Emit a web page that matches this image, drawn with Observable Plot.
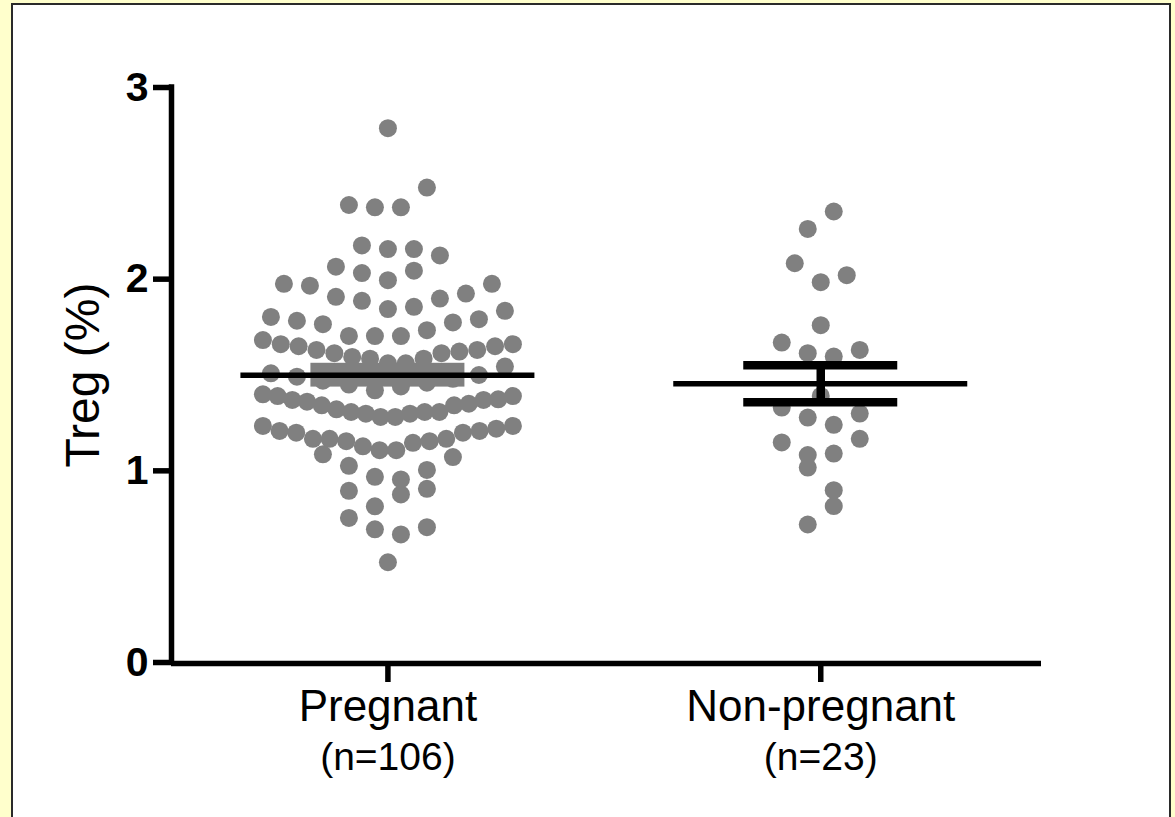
<!DOCTYPE html>
<html>
<head>
<meta charset="utf-8">
<script src="https://cdn.jsdelivr.net/npm/d3@7"></script>
<script src="https://cdn.jsdelivr.net/npm/@observablehq/plot@0.6"></script>
<style>
  html, body { margin: 0; padding: 0; width: 1175px; height: 817px; overflow: hidden; background: #FFFFCC; }
  #panel { position: absolute; left: 11px; top: 3px; width: 1160px; height: 900px; box-sizing: border-box;
           border: 2px solid #2a2a2a; background: #ffffff; }
  #chart { position: absolute; left: 0; top: 0; }
</style>
</head>
<body>
<div id="panel"></div>
<div id="chart"></div>
<script>
// ---- data ----
const groups = ["Pregnant", "Non-pregnant"];
const groupCounts = ["(n=106)", "(n=23)"];
const yTicks = [0, 1, 2, 3];
const yLabel = "Treg (%)";

const pregnant = [
  2.788, 2.478, 2.387, 2.375, 2.375, 2.157, 2.176, 2.124, 2.157, 2.065,
  2.032, 2.044, 1.995, 1.976, 1.966, 1.976, 1.925, 1.899, 1.887, 1.908,
  1.856, 1.835, 1.791, 1.774, 1.734, 1.703, 1.703, 1.765, 1.783, 1.803,
  1.844, 1.704, 1.661, 1.650, 1.631, 1.622, 1.614, 1.585, 1.585, 1.594,
  1.614, 1.631, 1.650, 1.661, 1.682, 1.561, 1.509, 1.491, 1.544, 1.561,
  1.500, 1.390, 1.373, 1.361, 1.342, 1.321, 1.307, 1.298, 1.399, 1.390,
  1.281, 1.281, 1.298, 1.307, 1.307, 1.342, 1.350, 1.370, 1.370, 1.234,
  1.234, 1.208, 1.199, 1.167, 1.167, 1.155, 1.128, 1.108, 1.108, 1.146,
  1.155, 1.167, 1.199, 1.208, 1.220, 1.086, 1.072, 1.026, 1.005, 0.969,
  0.955, 0.896, 0.877, 0.906, 0.815, 0.754, 0.695, 0.668, 0.706, 0.523,
  1.420, 1.440, 1.450, 1.460, 1.470, 1.480
];
const nonPregnant = [
  2.353, 2.262, 2.083, 2.021, 1.984, 1.760, 1.669, 1.614, 1.596, 1.631,
  1.391, 1.330, 1.278, 1.240, 1.299, 1.148, 1.082, 1.017, 1.090, 1.167,
  0.899, 0.816, 0.720
];
const series = [pregnant, nonPregnant];

// ---- layout constants ----
const W = 1175, H = 817;
const mL = 171, mR = 134, mT = 87, mB = 155;
const xMax = 2.01;
const xPer = (W - mL - mR) / xMax;     // px per x unit
const yPer = (H - mT - mB) / 3;        // px per y unit
const dotR = 9;
const rowH = 0.135;
const maxSpread = 250;
const baseStep = 26;

// Prism-like column scatter: group values into rows, spread each row symmetrically
function layout(values, gi) {
  const sorted = values.slice().sort(d3.ascending);
  const rows = [];
  let cur = null;
  for (const v of sorted) {
    if (!cur || v - cur[0] > rowH) { cur = [v]; rows.push(cur); } else cur.push(v);
  }
  const pts = [];
  rows.forEach((row, ri) => {
    const n = row.length;
    const s = Math.min(baseStep, maxSpread / Math.max(1, n - 1));
    const flip = ri % 2 ? -1 : 1;
    row.forEach((v, k) => {
      let off;
      if (n % 2) {
        const m = Math.ceil(k / 2);
        off = k === 0 ? 0 : (k % 2 ? -1 : 1) * m * s;
      } else {
        const m = Math.floor(k / 2);
        off = (k % 2 ? 1 : -1) * (m + 0.5) * s;
      }
      pts.push({group: groups[gi], value: v, x: gi + 0.5 + flip * off / xPer});
    });
  });
  return pts;
}

const points = series.flatMap((vals, gi) => layout(vals, gi));
const stats = series.map((vals, gi) => {
  const mean = d3.mean(vals);
  const sem = d3.deviation(vals) / Math.sqrt(vals.length);
  return {group: groups[gi], c: gi + 0.5, mean, sem, lo: mean - sem, hi: mean + sem};
});

const meanHalf = 147 / xPer;
const capHalf = 77 / xPer;
const bandHalf = 73 / xPer;
const axisW = 5.5;
const gray = "#808080";
const font = "'Liberation Sans', Arial, Helvetica, sans-serif";

const chart = Plot.plot({
  width: W, height: H,
  marginLeft: mL, marginRight: mR, marginTop: mT, marginBottom: mB,
  style: {background: "transparent", fontFamily: font, color: "#000", overflow: "visible"},
  x: {type: "linear", domain: [0, xMax], axis: null},
  y: {type: "linear", domain: [0, 3], axis: null},
  marks: [
    // points
    Plot.dot(points, {x: "x", y: "value", r: dotR, fill: gray, stroke: "none"}),
    // Pregnant: grey SEM band
    Plot.rect([stats[0]], {x1: d => d.c - bandHalf, x2: d => d.c + bandHalf, y1: "lo", y2: "hi",
      fill: gray, stroke: gray, strokeWidth: 8}),
    // Non-pregnant: black SEM bars
    Plot.ruleX([stats[1]], {x: "c", y1: "lo", y2: "hi", stroke: "#000", strokeWidth: 8.5}),
    Plot.ruleY([stats[1]], {y: "lo", x1: d => d.c - capHalf, x2: d => d.c + capHalf, stroke: "#000", strokeWidth: 8.5}),
    Plot.ruleY([stats[1]], {y: "hi", x1: d => d.c - capHalf, x2: d => d.c + capHalf, stroke: "#000", strokeWidth: 8.5}),
    // mean lines
    Plot.ruleY(stats, {y: "mean", x1: d => d.c - meanHalf, x2: d => d.c + meanHalf, stroke: "#000", strokeWidth: 5.5}),
    // y axis
    Plot.ruleX([0], {y1: 0, y2: 3, stroke: "#000", strokeWidth: axisW, strokeLinecap: "square"}),
    Plot.ruleY(yTicks, {y: d => d, x1: 0, x2: -18 / xPer, stroke: "#000", strokeWidth: axisW}),
    Plot.text(yTicks, {x: 0, y: d => d, text: d => String(d), dx: -23, textAnchor: "end",
      fontSize: 41, fontWeight: "bold", fill: "#000"}),
    Plot.text([yLabel], {frameAnchor: "left", text: d => d, rotate: -90, dx: -73, lineAnchor: "bottom",
      textAnchor: "middle", fontSize: 48, fill: "#000"}),
    // x axis
    Plot.ruleY([0], {x1: 0, x2: xMax, stroke: "#000", strokeWidth: axisW, dy: 1}),
    Plot.ruleX(stats, {x: "c", y1: 0, y2: -20 / yPer, stroke: "#000", strokeWidth: axisW}),
    Plot.text(stats, {x: "c", y: 0, text: "group", dy: 58, lineAnchor: "bottom", fontSize: 44, fill: "#000"}),
    Plot.text(stats.map((s, i) => ({c: s.c, t: groupCounts[i]})), {x: "c", y: 0, text: "t", dy: 107,
      lineAnchor: "bottom", fontSize: 39, fill: "#000"})
  ]
});
document.getElementById("chart").appendChild(chart);
</script>
</body>
</html>
